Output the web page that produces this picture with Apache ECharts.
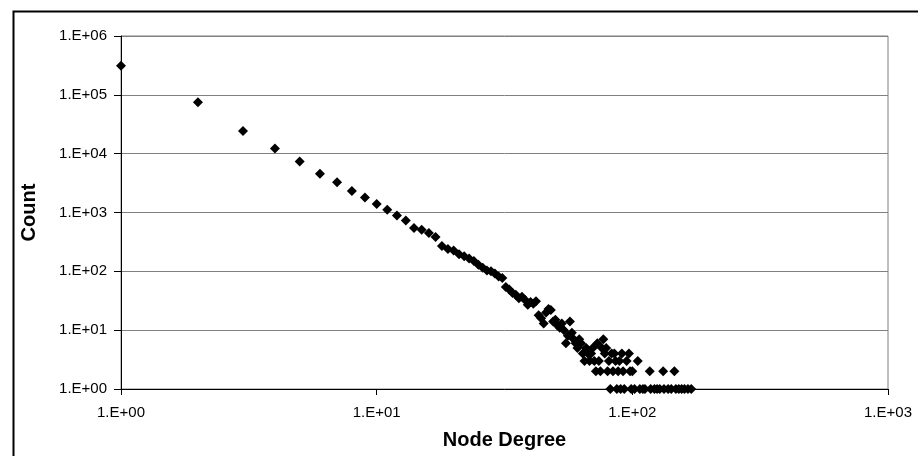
<!DOCTYPE html>
<html>
<head>
<meta charset="utf-8">
<script src="https://cdn.jsdelivr.net/npm/echarts@6/dist/echarts.min.js"></script>
<style>
html,body{margin:0;padding:0;background:#fff;}
#chart{width:918px;height:456px;}
</style>
</head>
<body>
<div id="chart"></div>
<script>
var degrees = [1,2,3,4,5,6,7,8,9,10,
  11,12,13,14,15,16,17,18,19,20,
  21,22,23,24,25,26,27,28,29,30,
  31,32,33,34,35,36,37,38,39,40,
  41,42,43,44,45,46,47,48,49,50,
  51,52,53,54,55,56,57,58,59,60,
  61,62,63,64,65,66,67,68,69,70,
  71,72,73,74,75,76,77,78,79,80,
  81,82,83,84,85,86,87,88,89,90,
  91,92,93,95,97,98,99,100,102,105,
  107,110,112,117,118,122,125,128,132,133,
  138,142,146,148,152,156,160,165,170];
var counts = [313000,74800,24400,12200,7340,4540,3280,2310,1800,1400,
  1110,890,730,545,510,450,385,270,240,226,
  195,180,165,150,130,115,103,100,92,82,
  77,54,49,43,40,35,37,33,27,30,
  28,31,18,16,13,20,23,22,14,15,
  12,11,13,10,6,8,14,9,7,6,
  5,7,6,4,3,5,4,3,4,5,
  3,2,6,3,2,5,7,4,5,2,
  3,1,4,2,4,3,1,2,3,1,
  4,2,1,3,4,2,1,2,1,3,
  1,1,1,2,1,1,1,1,2,1,
  1,1,2,1,1,1,1,1,1];
var xTicks = [1,10,100,1000];
var yTicks = [1,10,100,1000,10000,100000,1000000];

function sci(v){
  var e = Math.round(Math.log10(v));
  return '1.E+' + (e < 10 ? '0' + e : e);
}

var points = degrees.map(function(d,i){ return [d, counts[i]]; });

var chart = echarts.init(document.getElementById('chart'), null, {renderer:'canvas'});
chart.setOption({
  animation:false,
  backgroundColor:'#ffffff',
  graphic:[{
    type:'rect', left:11, top:9, shape:{x:0,y:0,width:920,height:460},
    style:{fill:'none', stroke:'#000', lineWidth:2}, silent:true, z:-1
  }],
  grid:{left:121, right:30, top:36, bottom:67, show:true, borderColor:'#808080', borderWidth:1, backgroundColor:'#fff'},
  xAxis:{
    type:'log', logBase:10, min:xTicks[0], max:xTicks[xTicks.length-1],
    name:'Node Degree', nameLocation:'middle', nameGap:41,
    nameTextStyle:{fontFamily:'Arial, Liberation Sans', fontWeight:'bold', fontSize:20, color:'#000'},
    axisLine:{lineStyle:{color:'#000', width:1}},
    axisTick:{show:true, inside:false, length:6, lineStyle:{color:'#000'}},
    minorTick:{show:false},
    splitLine:{show:false},
    axisLabel:{fontFamily:'Arial, Liberation Sans', fontSize:15, color:'#000', margin:16, formatter:function(v){return sci(v);}}
  },
  yAxis:{
    type:'log', logBase:10, min:yTicks[0], max:yTicks[yTicks.length-1],
    name:'Count', nameLocation:'middle', nameGap:82,
    nameTextStyle:{fontFamily:'Arial, Liberation Sans', fontWeight:'bold', fontSize:20, color:'#000'},
    axisLine:{show:true, lineStyle:{color:'#000', width:1}},
    axisTick:{show:true, inside:false, length:7, lineStyle:{color:'#000'}},
    splitLine:{show:true, lineStyle:{color:'#808080', width:1}},
    axisLabel:{fontFamily:'Arial, Liberation Sans', fontSize:15, color:'#000', margin:14, formatter:function(v){return sci(v);}}
  },
  series:[{
    type:'scatter',
    data:points,
    symbol:'diamond',
    symbolSize:[10,10],
    itemStyle:{color:'#000', opacity:1}
  }]
});
</script>
</body>
</html>
